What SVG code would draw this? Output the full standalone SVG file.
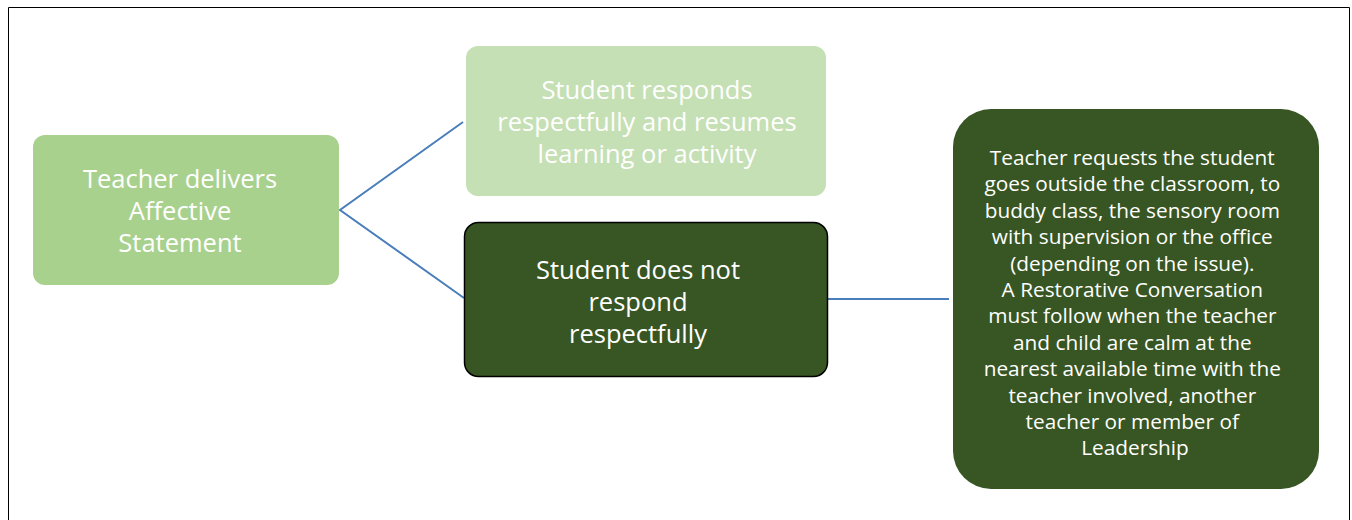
<svg xmlns="http://www.w3.org/2000/svg" width="1352" height="520" viewBox="0 0 1352 520">
<style>
.t{font-family:"Open Sans",Lato,"Liberation Sans",sans-serif;fill:#ffffff;text-anchor:middle}
.big{font-size:25.5px}
.small{font-size:20.8px}
.conn{stroke:#4a7ebb;stroke-width:2;fill:none}
</style>
<rect x="0" y="0" width="1352" height="520" fill="#ffffff"/>
<path d="M8.5 530 V7.5 H1349.5 V530" fill="none" stroke="#000000" stroke-width="1"/>
<g id="connectors">
<polyline class="conn" points="463,122 340,210 464,298"/>
<line class="conn" x1="828" y1="299" x2="949" y2="299"/>
</g>
<g id="node-teacher">
<rect x="33" y="135" width="306" height="150" rx="12" fill="#a9d18e"/>
<text class="t big" x="180" y="188">Teacher delivers</text>
<text class="t big" x="180" y="220">Affective</text>
<text class="t big" x="180" y="252">Statement</text>
</g>
<g id="node-responds">
<rect x="466" y="46" width="360" height="150" rx="12" fill="#c5e0b4"/>
<text class="t big" x="647" y="99">Student responds</text>
<text class="t big" x="647" y="131">respectfully and resumes</text>
<text class="t big" x="647" y="163">learning or activity</text>
</g>
<g id="node-not-respond">
<rect x="464.5" y="222.5" width="363" height="154" rx="14" fill="#375623" stroke="#000000" stroke-width="1.5"/>
<text class="t big" x="638" y="279">Student does not</text>
<text class="t big" x="638" y="311">respond</text>
<text class="t big" x="638" y="343">respectfully</text>
</g>
<g id="node-request">
<rect x="953" y="109" width="366" height="380" rx="38" fill="#375623"/>
<text class="t small">
<tspan x="1135" y="165">Teacher requests the student</tspan>
<tspan x="1135" y="191.4">goes outside the classroom, to</tspan>
<tspan x="1135" y="217.8">buddy class, the sensory room</tspan>
<tspan x="1135" y="244.2">with supervision or the office</tspan>
<tspan x="1135" y="270.6">(depending on the issue).</tspan>
<tspan x="1135" y="297">A Restorative Conversation</tspan>
<tspan x="1135" y="323.4">must follow when the teacher</tspan>
<tspan x="1135" y="349.8">and child are calm at the</tspan>
<tspan x="1135" y="376.2">nearest available time with the</tspan>
<tspan x="1135" y="402.6">teacher involved, another</tspan>
<tspan x="1135" y="429">teacher or member of</tspan>
<tspan x="1135" y="455.4">Leadership</tspan>
</text>
</g>
</svg>
